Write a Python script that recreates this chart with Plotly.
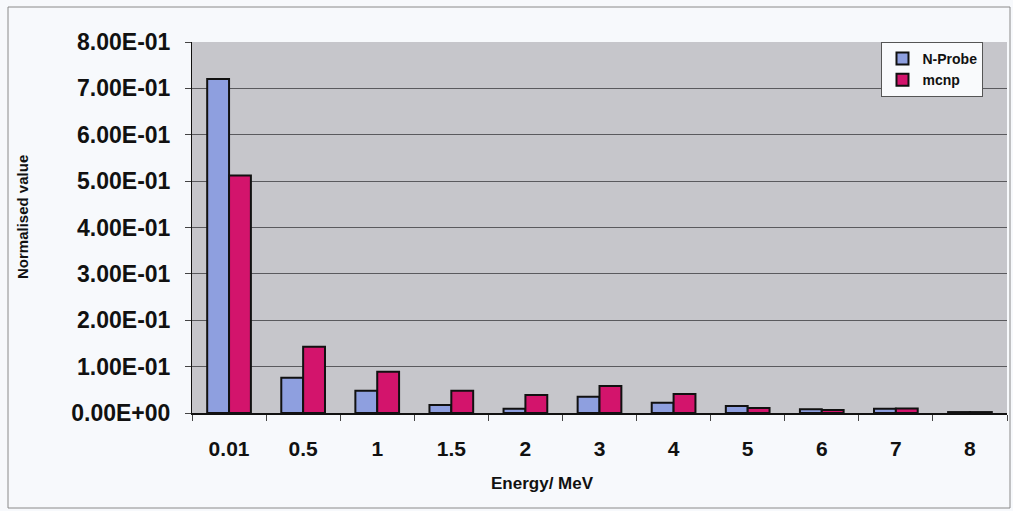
import plotly.graph_objects as go

# Energy bins and normalised responses
energies = ["0.01", "0.5", "1", "1.5", "2", "3", "4", "5", "6", "7", "8"]
n_probe = [0.72, 0.076, 0.048, 0.017, 0.009, 0.035, 0.022, 0.015, 0.008, 0.009, 0.002]
mcnp = [0.512, 0.143, 0.089, 0.048, 0.039, 0.058, 0.041, 0.011, 0.0065, 0.0095, 0.002]

y_tickvals = [0, 0.1, 0.2, 0.3, 0.4, 0.5, 0.6, 0.7, 0.8]
y_ticktext = ["0.00E+00", "1.00E-01", "2.00E-01", "3.00E-01", "4.00E-01",
              "5.00E-01", "6.00E-01", "7.00E-01", "8.00E-01"]

FONT = "Liberation Sans, Arial, sans-serif"

fig = go.Figure()
fig.add_trace(go.Bar(
    x=energies, y=n_probe, name="N-Probe",
    marker=dict(color="#8e9fdf", line=dict(color="#111111", width=2)),
))
fig.add_trace(go.Bar(
    x=energies, y=mcnp, name="mcnp",
    marker=dict(color="#d3146c", line=dict(color="#111111", width=2)),
))

fig.update_layout(
    width=1013, height=511,
    margin=dict(l=192, r=6, t=42, b=98),
    paper_bgcolor="#f7f9fc",
    plot_bgcolor="#c6c6cb",
    barmode="group",
    bargap=0.41,
    bargroupgap=0.0,
    font=dict(family=FONT, color="#111111"),
    showlegend=True,
    legend=dict(
        x=0.846, y=1.0, xanchor="left", yanchor="top",
        bgcolor="#f9fafc", bordercolor="#555555", borderwidth=1,
        font=dict(family=FONT, size=14, color="#111111", weight="bold"),
        itemwidth=30, entrywidth=110, tracegroupgap=0,
    ),
    xaxis=dict(
        type="category",
        tickson="boundaries",
        ticks="outside", ticklen=6, tickcolor="#444444",
        ticklabelstandoff=16,
        showline=True, linecolor="#111111", linewidth=2,
        tickfont=dict(family=FONT, size=21, color="#111111", weight="bold"),
        showgrid=False,
    ),
    yaxis=dict(
        range=[0, 0.8],
        tickvals=y_tickvals, ticktext=y_ticktext,
        ticks="outside", ticklen=6, tickcolor="#444444",
        ticklabelstandoff=10,
        showline=True, linecolor="#111111", linewidth=1,
        showgrid=True, gridcolor="#5a5a5e", gridwidth=1,
        zeroline=False,
        tickfont=dict(family=FONT, size=23, color="#111111", weight="bold"),
    ),
)

# Axis titles
fig.add_annotation(
    text="Energy/ MeV", xref="paper", yref="paper",
    x=(542 - 192) / 815, y=-(483 - 413) / 371,
    xanchor="center", yanchor="middle", showarrow=False,
    font=dict(family=FONT, size=17, color="#111111", weight="bold"),
)
fig.add_annotation(
    text="Normalised value", xref="paper", yref="paper",
    x=(22 - 192) / 815, y=(413 - 217) / 371, textangle=-90,
    xanchor="center", yanchor="middle", showarrow=False,
    font=dict(family=FONT, size=15, color="#111111", weight="bold"),
)

# Chart frame
fig.add_shape(
    type="rect", xref="paper", yref="paper",
    x0=(8 - 192) / 815, x1=(1010 - 192) / 815,
    y0=(413 - 508) / 371, y1=(413 - 7) / 371,
    line=dict(color="#8a8a8a", width=1), fillcolor="rgba(0,0,0,0)", layer="below",
)

fig.write_html("out.html")
